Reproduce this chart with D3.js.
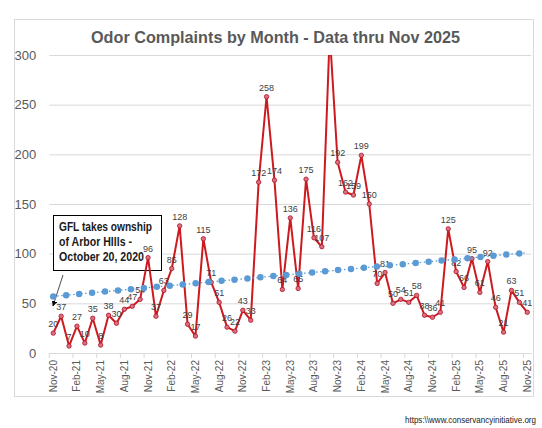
<!DOCTYPE html>
<html>
  <head>
    <title>Odor Complaints by Month</title>
    <style>
      body { margin: 0; background: #fff; }
      text { font-family: 'Liberation Sans', Arial, sans-serif; }
    </style>
  </head>
  <body>
    <script src="https://cdnjs.cloudflare.com/ajax/libs/d3/7.8.5/d3.min.js"></script>
    <script>
      let months = ['Nov-20', 'Dec-20',
        'Jan-21', 'Feb-21', 'Mar-21', 'Apr-21', 'May-21', 'Jun-21', 'Jul-21', 'Aug-21', 'Sep-21', 'Oct-21', 'Nov-21', 'Dec-21',
        'Jan-22', 'Feb-22', 'Mar-22', 'Apr-22', 'May-22', 'Jun-22', 'Jul-22', 'Aug-22', 'Sep-22', 'Oct-22', 'Nov-22', 'Dec-22',
        'Jan-23', 'Feb-23', 'Mar-23', 'Apr-23', 'May-23', 'Jun-23', 'Jul-23', 'Aug-23', 'Sep-23', 'Oct-23', 'Nov-23', 'Dec-23',
        'Jan-24', 'Feb-24', 'Mar-24', 'Apr-24', 'May-24', 'Jun-24', 'Jul-24', 'Aug-24', 'Sep-24', 'Oct-24', 'Nov-24', 'Dec-24',
        'Jan-25', 'Feb-25', 'Mar-25', 'Apr-25', 'May-25', 'Jun-25', 'Jul-25', 'Aug-25', 'Sep-25', 'Oct-25', 'Nov-25'];

      let complaints = [20, 37,
        7, 27, 10, 35, 8, 38, 30, 44, 47, 54, 96, 37,
        63, 85, 128, 29, 17, 115, 71, 51, 26, 22, 43, 33,
        172, 258, 174, 64, 136, 65, 175, 116, 107, 322, 192, 162,
        159, 199, 150, 70, 81, 50, 54, 51, 58, 38, 36, 41,
        125, 82, 66, 95, 61, 92, 46, 21, 63, 51, 41];

      // linear trend, read at first and last month
      let trendMonths = ['Nov-20', 'Nov-25'],
          trendValues = [57, 101];

      let tickMonths = ['Nov-20', 'Feb-21', 'May-21', 'Aug-21', 'Nov-21', 'Feb-22', 'May-22', 'Aug-22', 'Nov-22',
        'Feb-23', 'May-23', 'Aug-23', 'Nov-23', 'Feb-24', 'May-24', 'Aug-24', 'Nov-24', 'Feb-25', 'May-25', 'Aug-25', 'Nov-25'];
      let yTicks = [0, 50, 100, 150, 200, 250, 300];

      let noteLines = ['GFL takes ownship', 'of Arbor HIlls -', 'October 20, 2020'];

      let svg = d3.select('body')
                  .append('svg')
                  .attr('width', 542)
                  .attr('height', 428);

      svg.append('rect')
         .attr('x', 14.5).attr('y', 19.5)
         .attr('width', 519).attr('height', 377)
         .attr('fill', '#fff')
         .attr('stroke', '#d9d9d9');

      let xScale = d3.scaleBand()
                     .domain(months)
                     .range([49.3, 531.2]);
      let xc = (m) => xScale(m) + xScale.bandwidth() / 2;

      let yScale = d3.scaleLinear()
                     .domain([0, 300])
                     .range([353, 55]);

      svg.append('text')
         .attr('x', 275.5).attr('y', 43)
         .attr('text-anchor', 'middle')
         .attr('font-size', '17px')
         .attr('font-weight', 'bold')
         .attr('fill', '#595959')
         .attr('textLength', 369)
         .attr('lengthAdjust', 'spacingAndGlyphs')
         .text('Odor Complaints by Month - Data thru Nov 2025');

      // gridlines + y labels
      let yAxis = svg.append('g')
                     .attr('transform', 'translate(49.3,0)')
                     .call(d3.axisLeft(yScale)
                             .tickValues(yTicks)
                             .tickSize(-(531.2 - 49.3))
                             .tickPadding(13));
      yAxis.select('.domain').remove();
      yAxis.selectAll('line').attr('stroke', '#d9d9d9');
      yAxis.selectAll('text')
           .attr('font-size', '13px')
           .attr('fill', '#595959')
           .attr('font-family', "'Liberation Sans', Arial, sans-serif");

      // x axis: labels at month centres, tick marks on boundaries
      let xAxis = svg.append('g')
                     .attr('transform', 'translate(0,353)')
                     .call(d3.axisBottom(xScale)
                             .tickValues(tickMonths)
                             .tickSize(0)
                             .tickPadding(0));
      xAxis.select('.domain').attr('stroke', '#d9d9d9');
      xAxis.selectAll('text')
           .attr('font-size', '10px')
           .attr('fill', '#595959')
           .attr('font-family', "'Liberation Sans', Arial, sans-serif")
           .attr('transform', 'rotate(-90)')
           .attr('text-anchor', 'end')
           .attr('dy', '0.35em')
           .attr('x', -7)
           .attr('y', 0);

      svg.append('g')
         .selectAll('line')
         .data(tickMonths)
         .enter()
           .append('line')
           .attr('x1', (d) => xScale(d))
           .attr('x2', (d) => xScale(d))
           .attr('y1', 353).attr('y2', 358)
           .attr('stroke', '#d9d9d9');

      // annotation box sits under the series
      svg.append('defs')
         .append('marker')
         .attr('id', 'head')
         .attr('viewBox', '0 0 10 10')
         .attr('refX', 9).attr('refY', 5)
         .attr('markerWidth', 7).attr('markerHeight', 7)
         .attr('orient', 'auto')
         .append('path')
         .attr('d', 'M0,0 L10,5 L0,10 Z')
         .attr('fill', '#000');

      svg.append('line')
         .attr('x1', 63).attr('y1', 275)
         .attr('x2', 53).attr('y2', 306)
         .attr('stroke', '#222')
         .attr('stroke-width', 0.8)
         .attr('marker-end', 'url(#head)');

      svg.append('rect')
         .attr('x', 53.5).attr('y', 215.5)
         .attr('width', 108).attr('height', 55)
         .attr('fill', '#fff')
         .attr('stroke', '#000');

      let noteWidths = [93, 73, 85];
      svg.append('g')
         .selectAll('text')
         .data(noteLines)
         .enter()
           .append('text')
           .attr('x', 59)
           .attr('y', (d, i) => 230.5 + i * 15)
           .attr('font-size', '13px')
           .attr('font-weight', 'bold')
           .attr('fill', '#1a1a1a')
           .attr('textLength', (d, i) => noteWidths[i])
           .attr('lengthAdjust', 'spacingAndGlyphs')
           .text((d) => d);

      svg.append('clipPath')
         .attr('id', 'plot')
         .append('rect')
         .attr('x', 40).attr('y', 55)
         .attr('width', 500).attr('height', 310);

      let series = months.map((m, i) => ({ m: m, v: complaints[i] }));

      let line = d3.line()
                   .x((d) => xc(d.m))
                   .y((d) => yScale(d.v));

      let plot = svg.append('g').attr('clip-path', 'url(#plot)');

      plot.append('path')
          .attr('d', line(series))
          .attr('fill', 'none')
          .attr('stroke', '#cc1a1f')
          .attr('stroke-width', 2)
          .attr('stroke-linejoin', 'round');

      plot.selectAll('circle')
          .data(series)
          .enter()
            .append('circle')
            .attr('cx', (d) => xc(d.m))
            .attr('cy', (d) => yScale(d.v))
            .attr('r', 2.2)
            .attr('fill', '#d9707e')
            .attr('stroke', '#b3122a')
            .attr('stroke-width', 0.8);

      svg.append('g')
         .selectAll('text')
         .data(series.filter((d) => d.v <= 300))
         .enter()
           .append('text')
           .attr('x', (d) => xc(d.m))
           .attr('y', (d) => yScale(d.v) - 6)
           .attr('text-anchor', 'middle')
           .attr('font-size', '9px')
           .attr('fill', '#404040')
           .text((d) => d.v);

      // trendline
      let trend = trendMonths.map((m, i) => ({ m: m, v: trendValues[i] }));
      svg.append('path')
         .attr('d', line(trend))
         .attr('fill', 'none')
         .attr('stroke', '#5b9bd5')
         .attr('stroke-width', 1.3)
         .attr('stroke-dasharray', '1.5 2.5');
      svg.append('path')
         .attr('d', line(trend))
         .attr('fill', 'none')
         .attr('stroke', '#5b9bd5')
         .attr('stroke-width', 6.5)
         .attr('stroke-linecap', 'round')
         .attr('stroke-dasharray', '0 13');

      svg.append('text')
         .attr('x', 536).attr('y', 423)
         .attr('text-anchor', 'end')
         .attr('font-size', '9.5px')
         .attr('fill', '#222')
         .attr('textLength', 131)
         .attr('lengthAdjust', 'spacingAndGlyphs')
         .text('https:\\\\www.conservancyinitiative.org');
    </script>
  </body>
</html>
